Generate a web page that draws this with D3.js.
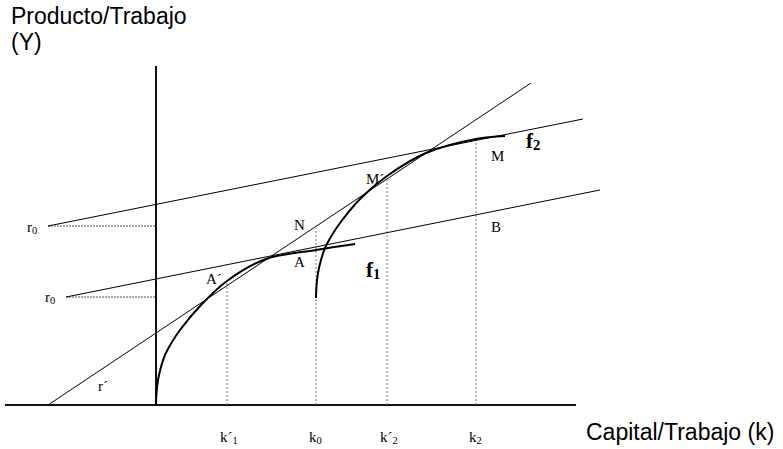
<!DOCTYPE html>
<html lang="es">
<head>
    <meta charset="UTF-8">
    <title>Producto/Trabajo vs Capital/Trabajo</title>
    <script src="https://d3js.org/d3.v7.min.js"></script>
    <style>
        body { margin: 0; background: #fff; }
        .axis-title { font-family: Arial, "Liberation Sans", sans-serif; font-size: 23px; fill: #000; }
        .lbl { font-family: "Times New Roman", "Liberation Serif", serif; font-size: 15px; fill: #000; }
        .flbl { font-family: "Times New Roman", "Liberation Serif", serif; font-size: 21px; font-weight: bold; fill: #000; }
    </style>
</head>
<body>
<div id="chart"></div>
<script>
// data, in chart units (k to the right of the Y axis, y above the k axis)
const f1K = [0, 0.5, 2, 5, 9, 16, 24, 45, 71, 110, 160, 199];
const f1Y = [0, 12, 25, 38, 50, 63, 75, 100, 124, 146, 155, 161];
const f2K = [160, 160.5, 162, 165, 169, 176, 184, 205, 231, 270, 320, 349];
const f2Y = [107, 119, 132, 145, 157, 170, 182, 207, 229, 252, 266, 269];

// straight lines: r´ ray and the two r0 lines
const lineNames = ["r´", "r0 alto", "r0 bajo"];
const lineK0 = [-108, -108, -90];
const lineY0 = [0, 179, 108];
const lineK1 = [375, 427, 444];
const lineY1 = [322, 286, 215];

// r0 levels (dashed to Y axis)
const r0Start = [-108, -90];
const r0Level = [179, 108];

// k marks
const kVals = [71, 160, 231, 320];
const kTops = [124, 177, 227, 268];
const kLabels = [["k´", "1"], ["k", "0"], ["k´", "2"], ["k", "2"]];

const width = 783, height = 449;
const x = d3.scaleLinear().domain([-151, 627]).range([5, 783]);
const y = d3.scaleLinear().domain([0, 405]).range([405, 0]);

const svg = d3.select("#chart").append("svg")
    .attr("width", width)
    .attr("height", height);

// axes
svg.append("line")
    .attr("x1", x(-151)).attr("x2", x(420))
    .attr("y1", y(0)).attr("y2", y(0))
    .attr("stroke", "#111").attr("stroke-width", 2);
svg.append("line")
    .attr("x1", x(0)).attr("x2", x(0))
    .attr("y1", y(0)).attr("y2", y(339))
    .attr("stroke", "#111").attr("stroke-width", 2);

// dotted verticals
svg.selectAll(".kline")
    .data(kVals)
    .enter().append("line")
    .attr("x1", d => x(d)).attr("x2", d => x(d))
    .attr("y1", y(0)).attr("y2", (d, i) => y(kTops[i]))
    .attr("stroke", "#777").attr("stroke-width", 1)
    .attr("stroke-dasharray", "2,2");

// dashed r0 levels
svg.selectAll(".r0line")
    .data(r0Level)
    .enter().append("line")
    .attr("x1", (d, i) => x(r0Start[i])).attr("x2", x(0))
    .attr("y1", d => y(d)).attr("y2", d => y(d))
    .attr("stroke", "#555").attr("stroke-width", 1)
    .attr("stroke-dasharray", "2,1");

// straight lines
svg.selectAll(".ray")
    .data(lineNames)
    .enter().append("line")
    .attr("x1", (d, i) => x(lineK0[i])).attr("y1", (d, i) => y(lineY0[i]))
    .attr("x2", (d, i) => x(lineK1[i])).attr("y2", (d, i) => y(lineY1[i]))
    .attr("stroke", "#000").attr("stroke-width", 1);

// production curves
const line = d3.line()
    .x(d => x(d[0]))
    .y(d => y(d[1]))
    .curve(d3.curveCatmullRom.alpha(0.5));

[[f1K, f1Y], [f2K, f2Y]].forEach(([ks, ys]) => {
    svg.append("path")
        .datum(d3.zip(ks, ys))
        .attr("d", line)
        .attr("fill", "none")
        .attr("stroke", "#000")
        .attr("stroke-width", 2);
});

// labels
function subLabel(px, py, main, sub, cls) {
    const t = svg.append("text").attr("class", cls).attr("x", px).attr("y", py);
    t.append("tspan").text(main);
    t.append("tspan").attr("dy", 2).style("font-size", "0.7em").text(sub);
}

subLabel(27, 232, "r", "0", "lbl");
subLabel(45, 302, "r", "0", "lbl");
svg.append("text").attr("class", "lbl").attr("x", 98).attr("y", 391).text("r´");
svg.append("text").attr("class", "lbl").attr("x", 206).attr("y", 284).text("A´");
svg.append("text").attr("class", "lbl").attr("x", 294).attr("y", 230).text("N");
svg.append("text").attr("class", "lbl").attr("x", 294).attr("y", 267).text("A");
svg.append("text").attr("class", "lbl").attr("x", 366).attr("y", 184).text("M´");
svg.append("text").attr("class", "lbl").attr("x", 491).attr("y", 161).text("M");
svg.append("text").attr("class", "lbl").attr("x", 491).attr("y", 232).text("B");
subLabel(366, 277, "f", "1", "flbl");
subLabel(526, 148, "f", "2", "flbl");

kVals.forEach((k, i) => {
    subLabel(x(k) - 7, 442, kLabels[i][0], kLabels[i][1], "lbl");
});

svg.append("text").attr("class", "axis-title").attr("x", 11).attr("y", 24).text("Producto/Trabajo");
svg.append("text").attr("class", "axis-title").attr("x", 11).attr("y", 50).text("(Y)");
svg.append("text").attr("class", "axis-title").attr("x", 586).attr("y", 440).text("Capital/Trabajo (k)");
</script>
</body>
</html>
